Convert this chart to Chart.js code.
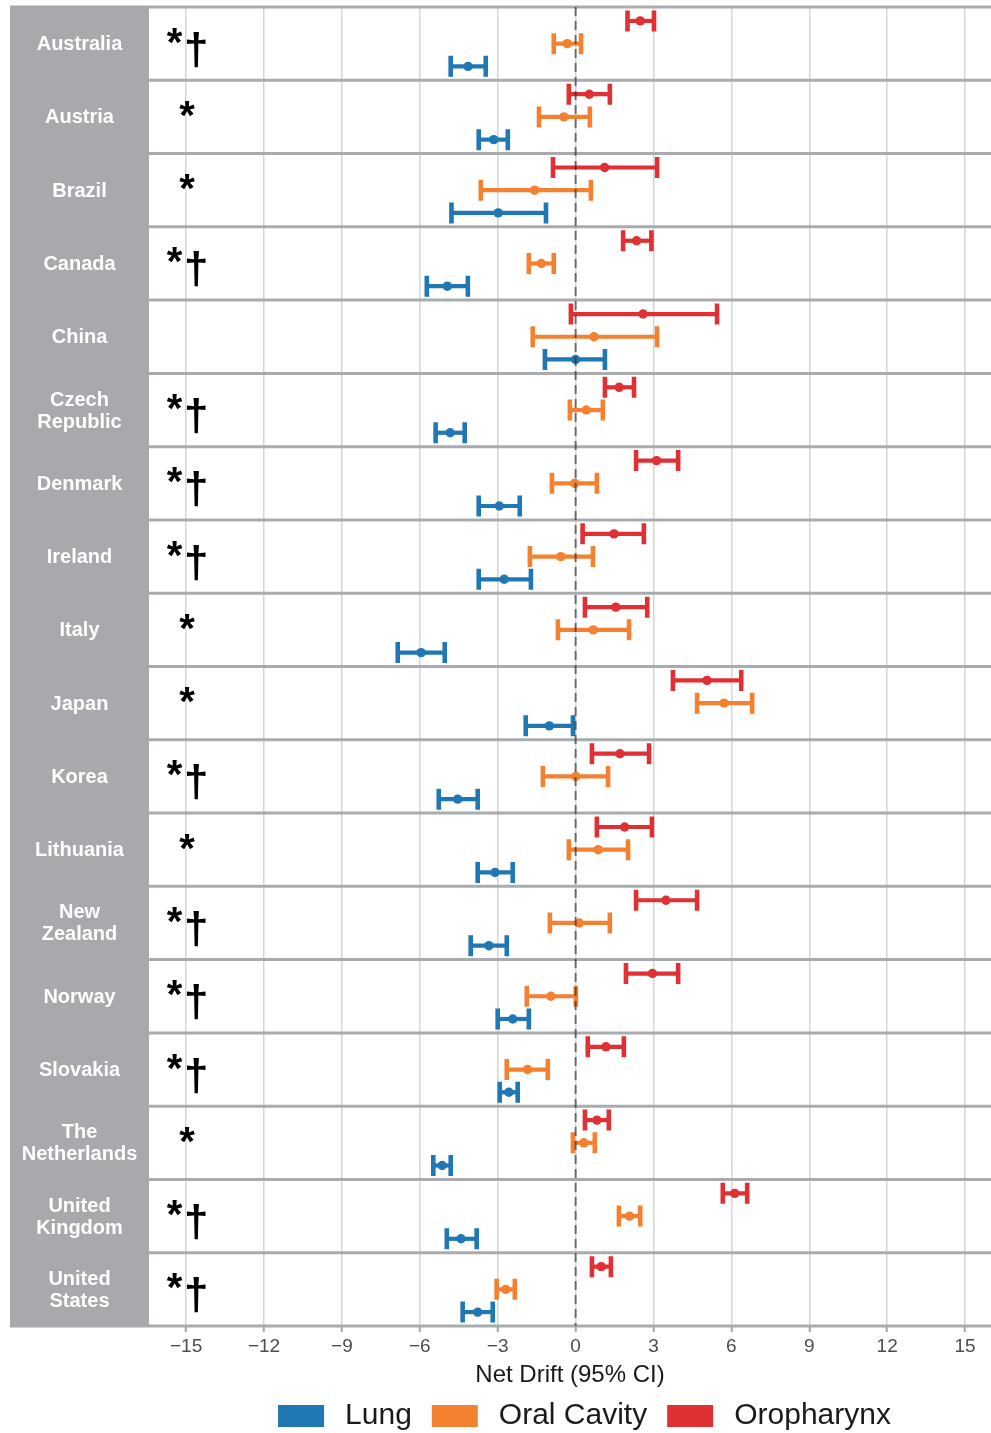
<!DOCTYPE html>
<html>
<head>
<meta charset="utf-8">
<script src="https://cdn.jsdelivr.net/npm/chart.js@4/dist/chart.umd.min.js"></script>
<style>
  html, body { margin: 0; padding: 0; background: #ffffff; }
  #wrap { width: 991px; height: 1433px; position: relative; }
</style>
</head>
<body>
<div id="wrap"><canvas id="chart"></canvas></div>
<script>
// Country rows, top to bottom (multi-line names as arrays)
const countries = [
  'Australia', 'Austria', 'Brazil', 'Canada', 'China',
  ['Czech', 'Republic'], 'Denmark', 'Ireland', 'Italy', 'Japan',
  'Korea', 'Lithuania', ['New', 'Zealand'], 'Norway', 'Slovakia',
  ['The', 'Netherlands'], ['United', 'Kingdom'], ['United', 'States']
];

// Significance markers shown at the left of each row
const markers = [
  '*†', '*', '*', '*†', '',
  '*†', '*†', '*†', '*', '*',
  '*†', '*', '*†', '*†', '*†',
  '*', '*†', '*†'
];

const xTicks = [-15, -12, -9, -6, -3, 0, 3, 6, 9, 12, 15];

const seriesNames = ['Lung', 'Oral Cavity', 'Oropharynx'];
const seriesColors = ['#1f77b4', '#f4812f', '#df3034'];

// Net drift estimates with 95% confidence limits
const lungEst = [-4.14, -3.15, -2.98, -4.94, 0.00, -4.83, -2.94, -2.75, -5.95, -1.01, -4.54, -3.10, -3.34, -2.42, -2.57, -5.14, -4.41, -3.77];
const lungLo  = [-4.81, -3.73, -4.78, -5.73, -1.18, -5.39, -3.73, -3.73, -6.85, -1.92, -5.27, -3.77, -4.04, -3.00, -2.92, -5.48, -4.96, -4.35];
const lungHi  = [-3.46, -2.61, -1.14, -4.15, 1.13, -4.27, -2.15, -1.72, -5.04, -0.10, -3.77, -2.42, -2.65, -1.80, -2.23, -4.81, -3.81, -3.19];

const oralEst = [-0.32, -0.45, -1.58, -1.32, 0.71, 0.41, -0.03, -0.57, 0.68, 5.72, 0.01, 0.87, 0.14, -0.95, -1.85, 0.32, 2.08, -2.69];
const oralLo  = [-0.84, -1.41, -3.65, -1.80, -1.65, -0.22, -0.91, -1.76, -0.68, 4.68, -1.26, -0.26, -0.99, -1.88, -2.65, -0.10, 1.67, -3.04];
const oralHi  = [0.21, 0.55, 0.59, -0.84, 3.14, 1.05, 0.82, 0.67, 2.06, 6.80, 1.25, 2.02, 1.32, 0.01, -1.07, 0.74, 2.49, -2.34];

const oroEst = [2.49, 0.53, 1.12, 2.35, 2.60, 1.68, 3.12, 1.48, 1.55, 5.06, 1.71, 1.89, 3.48, 2.96, 1.17, 0.82, 6.13, 0.99];
const oroLo  = [2.00, -0.26, -0.87, 1.83, -0.18, 1.13, 2.33, 0.27, 0.36, 3.75, 0.63, 0.82, 2.33, 1.94, 0.47, 0.36, 5.67, 0.63];
const oroHi  = [3.02, 1.32, 3.14, 2.92, 5.45, 2.25, 3.95, 2.63, 2.76, 6.38, 2.83, 2.94, 4.68, 3.95, 1.86, 1.28, 6.61, 1.36];

const estimates = [lungEst, oralEst, oroEst];
const lowers = [lungLo, oralLo, oroLo];
const uppers = [lungHi, oralHi, oroHi];
// vertical offset of each series within its row (row units)
const rowOffsets = [0.31, 0, -0.31];

const FONT = "'Liberation Sans', Arial, Helvetica, sans-serif";

const datasets = seriesNames.map((name, s) => ({
  label: name,
  data: estimates[s].map((v, i) => ({ x: v, y: i + rowOffsets[s] })),
  backgroundColor: seriesColors[s],
  borderColor: seriesColors[s],
  borderWidth: 0,
  pointRadius: 4.7,
  pointHoverRadius: 4.7
}));

const panelPlugin = {
  id: 'panels',
  afterLayout(chart) {
    // centre the legend row under the plotting panel
    const lg = chart.legend;
    if (lg) { lg.left += 84; lg.right += 84; }
  },
  beforeDatasetsDraw(chart) {
    const { ctx, chartArea, scales } = chart;
    const y = scales.y, x = scales.x;
    const top = y.getPixelForValue(-0.5);
    const bottom = y.getPixelForValue(countries.length - 0.5);
    ctx.save();
    // label strip
    ctx.fillStyle = '#a7a9ac';
    ctx.fillRect(10, top - 1.5, chartArea.left - 10, bottom - top + 3);
    ctx.fillStyle = '#ffffff';
    ctx.font = 'bold 20px ' + FONT;
    ctx.textAlign = 'center';
    ctx.textBaseline = 'middle';
    const cx = (10 + chartArea.left) / 2;
    countries.forEach((name, i) => {
      const lines = Array.isArray(name) ? name : [name];
      const cy = y.getPixelForValue(i);
      lines.forEach((ln, k) => {
        ctx.fillText(ln, cx, cy + (k - (lines.length - 1) / 2) * 22 + 1);
      });
    });
    // row separators
    ctx.strokeStyle = '#a9abae';
    ctx.lineWidth = 3;
    for (let i = 0; i <= countries.length; i++) {
      const py = y.getPixelForValue(i - 0.5);
      ctx.beginPath();
      ctx.moveTo(chartArea.left, py);
      ctx.lineTo(chartArea.right, py);
      ctx.stroke();
    }
    // confidence intervals
    ctx.lineCap = 'butt';
    seriesNames.forEach((_, s) => {
      ctx.strokeStyle = seriesColors[s];
      for (let i = 0; i < countries.length; i++) {
        const py = y.getPixelForValue(i + rowOffsets[s]);
        const x0 = x.getPixelForValue(lowers[s][i]);
        const x1 = x.getPixelForValue(uppers[s][i]);
        ctx.lineWidth = 4.2;
        ctx.beginPath();
        ctx.moveTo(x0, py);
        ctx.lineTo(x1, py);
        ctx.stroke();
        ctx.lineWidth = 4.6;
        ctx.beginPath();
        ctx.moveTo(x0, py - 10.5);
        ctx.lineTo(x0, py + 10.5);
        ctx.moveTo(x1, py - 10.5);
        ctx.lineTo(x1, py + 10.5);
        ctx.stroke();
      }
    });
    ctx.restore();
  },
  afterDatasetsDraw(chart) {
    const { ctx, chartArea, scales } = chart;
    const y = scales.y, x = scales.x;
    ctx.save();
    // reference line at zero drift
    const zx = x.getPixelForValue(0);
    ctx.strokeStyle = 'rgba(40,40,40,0.62)';
    ctx.lineWidth = 2;
    ctx.setLineDash([9, 5]);
    ctx.beginPath();
    ctx.moveTo(zx, chartArea.top);
    ctx.lineTo(zx, chartArea.bottom);
    ctx.stroke();
    ctx.setLineDash([]);
    // significance markers
    ctx.fillStyle = '#000000';
    ctx.textAlign = 'center';
    ctx.textBaseline = 'alphabetic';
    const mx = x.getPixelForValue(-15);
    markers.forEach((m, i) => {
      if (!m) return;
      const base = y.getPixelForValue(i);
      if (m.length === 1) {
        ctx.font = 'bold 40px ' + FONT;
        ctx.fillText(m, mx + 1, base + 12);
      } else {
        ctx.font = 'bold 40px ' + FONT;
        ctx.fillText(m[0], mx - 11.5, base + 12);
        ctx.font = 'bold 44px ' + FONT;
        ctx.fillText(m[1], mx + 10, base + 20);
      }
    });
    ctx.restore();
  }
};

new Chart(document.getElementById('chart'), {
  type: 'scatter',
  data: { datasets },
  plugins: [panelPlugin],
  options: {
    responsive: true,
    maintainAspectRatio: false,
    animation: false,
    events: [],
    layout: { autoPadding: false, padding: { top: 7, left: 10, right: 0, bottom: -8 } },
    scales: {
      x: {
        type: 'linear',
        min: -16.43,
        max: 16.0,
        afterBuildTicks: s => { s.ticks = xTicks.map(v => ({ value: v })); },
        afterFit: s => { s.height = 55; s.paddingLeft = 0; s.paddingRight = 0; },
        border: { display: false },
        grid: {
          color: '#d5d5d5',
          lineWidth: 1.5,
          tickColor: '#a6a6a6',
          tickWidth: 2,
          tickLength: 6
        },
        ticks: {
          padding: 3,
          color: '#4d4d4d',
          font: { family: FONT, size: 19 },
          maxRotation: 0,
          callback: v => (v < 0 ? '\u2212' + Math.abs(v) : String(v))
        },
        title: {
          display: true,
          text: 'Net Drift (95% CI)',
          color: '#1a1a1a',
          font: { family: FONT, size: 24 },
          padding: { top: 0, bottom: -9 }
        }
      },
      y: {
        type: 'linear',
        reverse: true,
        min: -0.5,
        max: countries.length - 0.5,
        afterBuildTicks: s => { s.ticks = countries.map((_, i) => ({ value: i })); },
        afterFit: s => { s.width = 139; },
        border: { display: false },
        grid: { display: false, drawTicks: false },
        ticks: { display: false }
      }
    },
    plugins: {
      legend: {
        position: 'bottom',
        labels: {
          boxWidth: 46,
          boxHeight: 22,
          padding: 20,
          color: '#1a1a1a',
          font: { family: FONT, size: 30 },
          generateLabels: chart => Chart.defaults.plugins.legend.labels.generateLabels(chart)
            .map(item => Object.assign(item, { text: '\u2009' + item.text }))
        }
      },
      tooltip: { enabled: false }
    }
  }
});
</script>
</body>
</html>
